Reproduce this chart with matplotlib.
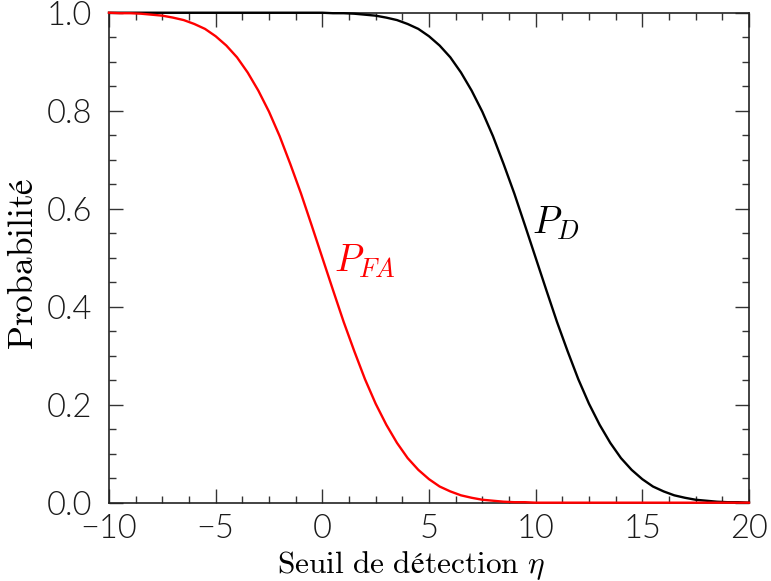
import numpy as np
import matplotlib
matplotlib.use("Agg")
import matplotlib.pyplot as plt
from matplotlib.ticker import MultipleLocator, FormatStrFormatter

plt.rcParams['mathtext.fontset'] = 'cm'

# seuil de detection (pas de 0.5)
eta = np.arange(-10, 20.5, 0.5)

# probabilite de fausse alarme
p_fa = [1.000, 0.999, 0.999, 0.998, 0.996, 0.994, 0.990, 0.985, 0.977, 0.967,
        0.952, 0.933, 0.909, 0.878, 0.841, 0.798, 0.748, 0.691, 0.631, 0.566,
        0.500, 0.434, 0.369, 0.309, 0.252, 0.202, 0.159, 0.122, 0.091, 0.067,
        0.048, 0.033, 0.023, 0.015, 0.010, 0.006, 0.004, 0.002, 0.001, 0.001,
        0.000, 0.000, 0.000, 0.000, 0.000, 0.000, 0.000, 0.000, 0.000, 0.000,
        0.000, 0.000, 0.000, 0.000, 0.000, 0.000, 0.000, 0.000, 0.000, 0.000,
        0.000]

# probabilite de detection
p_d = [1.000, 1.000, 1.000, 1.000, 1.000, 1.000, 1.000, 1.000, 1.000, 1.000,
       1.000, 1.000, 1.000, 1.000, 1.000, 1.000, 1.000, 1.000, 1.000, 1.000,
       1.000, 0.999, 0.999, 0.998, 0.996, 0.994, 0.990, 0.985, 0.977, 0.967,
       0.952, 0.933, 0.909, 0.878, 0.841, 0.798, 0.748, 0.691, 0.631, 0.566,
       0.500, 0.434, 0.369, 0.309, 0.252, 0.202, 0.159, 0.122, 0.091, 0.067,
       0.048, 0.033, 0.023, 0.015, 0.010, 0.006, 0.004, 0.002, 0.001, 0.001,
       0.000]

fig = plt.figure(figsize=(7.71, 5.81), dpi=100)
ax = fig.add_axes([0.1414, 0.1348, 0.83, 0.8433])

ax.plot(eta, p_d, color='black', lw=1.7, zorder=3, clip_on=False)
ax.plot(eta, p_fa, color='red', lw=1.7, zorder=4, clip_on=False)

ax.text(9.85, 0.55, r'$P_D$', fontsize=27, color='black')
ax.text(0.55, 0.472, r'$P_{FA}$', fontsize=27, color='red')

ax.set_xlim(-10, 20)
ax.set_ylim(0, 1)
ax.xaxis.set_major_locator(MultipleLocator(5))
ax.xaxis.set_minor_locator(MultipleLocator(1.25))
ax.yaxis.set_major_locator(MultipleLocator(0.2))
ax.yaxis.set_minor_locator(MultipleLocator(0.05))
ax.yaxis.set_major_formatter(FormatStrFormatter('%.1f'))

ax.tick_params(which='both', direction='in', top=True, right=True, width=1.0, color='#333333')
ax.tick_params(which='major', length=10)
ax.tick_params(which='minor', length=5)
ax.tick_params(axis='x', pad=8)
ax.tick_params(axis='y', pad=12)
for lab in ax.get_xticklabels() + ax.get_yticklabels():
    lab.set_fontfamily('Lato')
    lab.set_fontweight(300)
    lab.set_fontsize(23.5)
    lab.set_color('#1a1a1a')
for s in ax.spines.values():
    s.set_linewidth(1.2)
    s.set_color('#222222')

ax.set_xlabel(r'$\mathrm{Seuil\ de\ détection}\ \eta$', fontsize=22.6)
ax.set_ylabel(r'$\mathrm{Probabilité}$', fontsize=25.5)
ax.xaxis.set_label_coords(0.4727, -0.094)
ax.yaxis.set_label_coords(-0.108, 0.487)

fig.savefig('out.png', dpi=100)
